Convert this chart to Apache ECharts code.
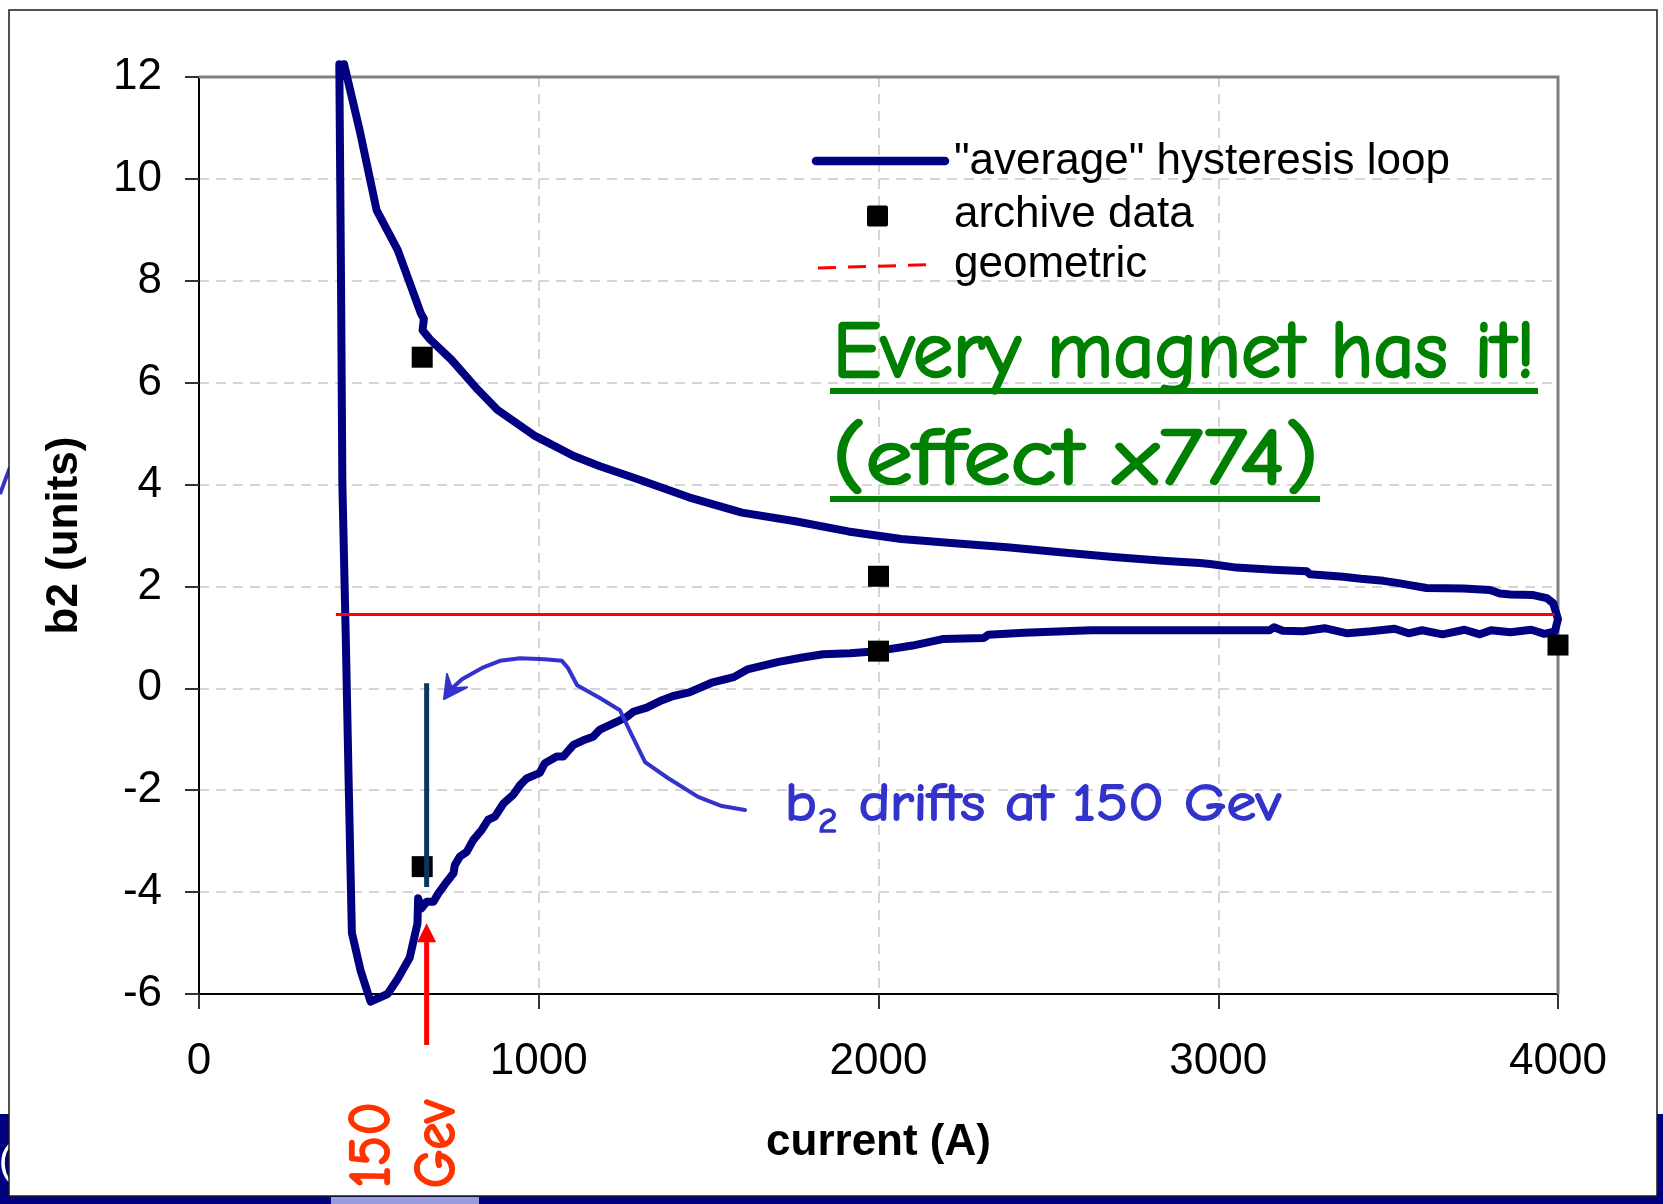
<!DOCTYPE html>
<html>
<head>
<meta charset="utf-8">
<script src="https://cdn.jsdelivr.net/npm/echarts@6/dist/echarts.min.js"></script>
<style>
  html, body { margin: 0; padding: 0; background: #fff; }
  #chart { width: 1663px; height: 1204px; }
</style>
</head>
<body>
<div id="chart"></div>
<script>
// b2 (units) against magnet current (A): averaged hysteresis loop,
// archived measurements and the geometric value.

// Loop traced in ramp order: drop at low current, up-ramp branch, turn at 4000 A, down-ramp branch.
const loopCurrent = [
  413, 418, 422, 432, 441, 450, 476, 505, 555, 585, 620, 643, 645, 655, 670, 690, 704, 729, 749, 753,
  768, 788, 807, 832, 851, 871, 896, 925, 945, 964, 1003, 1018, 1053, 1072, 1102, 1131, 1160, 1180, 1229, 1259,
  1278, 1318, 1357, 1396, 1443, 1509, 1574, 1614, 1706, 1772, 1837, 1916, 1995, 2100, 2192, 2310, 2323, 2428, 2626, 2889,
  3151, 3164, 3190, 3250, 3313, 3380, 3450, 3519, 3560, 3600, 3660, 3725, 3770, 3803, 3860, 3921, 3960, 3991, 4000, 3986,
  3967, 3927, 3860, 3829, 3800, 3722, 3613, 3560, 3535, 3486, 3420, 3368, 3270, 3260, 3161, 3054, 2976, 2946, 2847, 2691,
  2535, 2379, 2223, 2067, 1911, 1755, 1598, 1442, 1286, 1180, 1103, 990, 878, 821, 743, 680, 658, 662, 653, 585,
  523, 473, 427
];
const loopB2 = [
  12.25, 8.0, 4.0, 1.0, -2.0, -4.8, -5.55, -6.15, -6.0, -5.7, -5.29, -4.62, -4.12, -4.32, -4.19, -4.19, -4.03, -3.80, -3.63, -3.47,
  -3.30, -3.21, -2.98, -2.78, -2.58, -2.52, -2.26, -2.09, -1.90, -1.77, -1.66, -1.47, -1.34, -1.34, -1.11, -1.02, -0.95, -0.81, -0.66, -0.56,
  -0.46, -0.38, -0.25, -0.15, -0.08, 0.11, 0.22, 0.37, 0.52, 0.60, 0.67, 0.69, 0.73, 0.84, 0.97, 0.99, 1.05, 1.09, 1.14, 1.14,
  1.14, 1.20, 1.13, 1.12, 1.18, 1.08, 1.12, 1.17, 1.08, 1.14, 1.06, 1.15, 1.06, 1.14, 1.10, 1.15, 1.07, 1.12, 1.36, 1.67,
  1.77, 1.83, 1.84, 1.86, 1.93, 1.96, 1.97, 2.03, 2.06, 2.11, 2.15, 2.19, 2.24, 2.30, 2.33, 2.37, 2.44, 2.46, 2.50, 2.58,
  2.67, 2.77, 2.85, 2.93, 3.08, 3.28, 3.45, 3.75, 4.12, 4.36, 4.56, 4.95, 5.47, 5.86, 6.45, 6.85, 7.03, 7.25, 7.36, 8.6,
  9.38, 10.95, 12.25
];

// Archived b2 measurements
const archiveCurrent = [657, 657, 2000, 2000, 4000];
const archiveB2 = [6.5, -3.5, 2.2, 0.73, 0.85];

// Geometric b2
const geometricCurrent = [403, 3990];
const geometricB2 = [1.45, 1.45];

// Drift of b2 while sitting at 150 GeV
const driftCurrent = [670, 670];
const driftB2 = [0.1, -3.9];

// Axis ticks
const xTicks = [0, 1000, 2000, 3000, 4000];
const yTicks = [-6, -4, -2, 0, 2, 4, 6, 8, 10, 12];

// Annotation anchors, in (current, b2) units
const injectionArrow = { current: 670, from: -7.0, to: -4.61 };
const calloutPath = [
  [1607, -2.39], [1539, -2.31], [1469, -2.13], [1380, -1.76], [1313, -1.45], [1274, -0.92],
  [1239, -0.43], [1180, -0.19], [1113, 0.06], [1086, 0.40], [1068, 0.54], [1018, 0.57],
  [945, 0.59], [886, 0.54], [833, 0.40], [774, 0.18], [745, 0.0]
];
const calloutHead = [[721, -0.21], [730, 0.28], [745, 0.0], [789, 0.02]];

const SANS = 'Arial, "Liberation Sans", sans-serif';
const HAND = '"Comic Sans MS", "Comic Neue", "DejaVu Sans", sans-serif';

const zip = (xs, ys) => xs.map((x, i) => [x, ys[i]]);

const chart = echarts.init(document.getElementById('chart'), null, { renderer: 'canvas' });

const gridLine = { show: true, lineStyle: { color: '#c8c8c8', width: 1.5, type: [10, 7] } };

const option = {
  animation: false,
  backgroundColor: '#ffffff',
  grid: {
    left: 199, right: 105, top: 77, bottom: 210,
    show: false, containLabel: false, outerBoundsMode: 'none'
  },
  xAxis: {
    type: 'value',
    min: xTicks[0], max: xTicks[xTicks.length - 1], interval: xTicks[1] - xTicks[0],
    name: 'current (A)', nameLocation: 'middle', nameGap: 127, nameMoveOverlap: false,
    nameTextStyle: { fontSize: 44, fontWeight: 'bold', fontFamily: SANS, color: '#000' },
    axisLine: { show: true, onZero: false, lineStyle: { color: '#000', width: 2 } },
    axisTick: { show: true, inside: false, length: 15, lineStyle: { color: '#333', width: 2 } },
    axisLabel: { fontSize: 44, margin: 46, color: '#000', fontFamily: SANS, formatter: v => String(v) },
    splitLine: gridLine
  },
  yAxis: {
    type: 'value',
    min: yTicks[0], max: yTicks[yTicks.length - 1], interval: yTicks[1] - yTicks[0],
    name: 'b2 (units)', nameLocation: 'middle', nameGap: 112, nameMoveOverlap: false,
    nameTextStyle: { fontSize: 44, fontWeight: 'bold', fontFamily: SANS, color: '#000' },
    axisLine: { show: true, onZero: false, lineStyle: { color: '#000', width: 2 } },
    axisTick: { show: true, inside: false, length: 14, lineStyle: { color: '#333', width: 2 } },
    axisLabel: { fontSize: 44, margin: 37, color: '#000', fontFamily: SANS, formatter: v => String(v) },
    splitLine: gridLine
  },
  series: [
    {
      name: '"average" hysteresis loop',
      type: 'line',
      data: zip(loopCurrent, loopB2),
      symbol: 'none',
      clip: false,
      z: 3,
      lineStyle: { color: '#000080', width: 8, join: 'round', cap: 'round', opacity: 1 }
    },
    {
      name: 'geometric',
      type: 'line',
      data: zip(geometricCurrent, geometricB2),
      symbol: 'none',
      z: 4,
      lineStyle: { color: '#ff0000', width: 3, opacity: 1 }
    },
    {
      name: 'archive data',
      type: 'scatter',
      data: zip(archiveCurrent, archiveB2),
      symbol: 'rect',
      symbolSize: 21,
      z: 5,
      itemStyle: { color: '#000000', opacity: 1 }
    },
    {
      name: 'drift',
      type: 'line',
      data: zip(driftCurrent, driftB2),
      symbol: 'none',
      z: 6,
      lineStyle: { color: '#073763', width: 5, cap: 'butt', opacity: 1 }
    }
  ]
};

chart.setOption(option);

// ---- annotations and slide decoration ----
const toPx = (a, b) => chart.convertToPixel({ gridIndex: 0 }, [a, b]);
const measureCtx = document.createElement('canvas').getContext('2d');
function textWidth(str, size, family, weight) {
  measureCtx.font = (weight || 'normal') + ' ' + size + 'px ' + family;
  return measureCtx.measureText(str).width;
}
function textEl(str, x, y, size, family, fill, extra, styleExtra) {
  return Object.assign({
    type: 'text', x: x, y: y,
    style: Object.assign({
      text: str, fontSize: size, fontFamily: family, fill: fill,
      align: 'left', textAlign: 'left', verticalAlign: 'middle', textVerticalAlign: 'middle'
    }, styleExtra || {})
  }, extra || {});
}
// hand-lettered text, thickened with an outline, fitted to a given width
function handText(str, x, y, size, fill, extra, weight) {
  return textEl(str, x, y, size, HAND, fill, extra, { stroke: fill, lineWidth: weight || 2 });
}
function fittedText(str, x, y, size, fill, width, extra, weight) {
  const s = width / textWidth(str, size, HAND);
  return handText(str, x, y, size, fill, Object.assign({ scaleX: s }, extra || {}), weight);
}

const elements = [];

// slide background behind the chart box
elements.push({ type: 'rect', z: -20, shape: { x: 0, y: 1114, width: 1663, height: 90 }, style: { fill: '#000080' } });
elements.push(textEl('/', 9, 484, 36, SANS, '#3333cc', { z: -19 }, { fontStyle: 'italic', fontWeight: 'bold', align: 'right', textAlign: 'right' }));
elements.push(textEl('(', 12, 1163, 40, SANS, '#ffffff', { z: -19 }, { align: 'right', textAlign: 'right' }));
elements.push({ type: 'rect', z: -18, shape: { x: 9, y: 10, width: 1648, height: 1186 }, style: { fill: '#ffffff', stroke: '#1a1a1a', lineWidth: 1.5 } });
elements.push({ type: 'rect', z: -17, shape: { x: 331, y: 1197, width: 148, height: 7 }, style: { fill: '#9a9ade' } });

// plot frame: grey top and right edges
(function () {
  const tl = toPx(xTicks[0], yTicks[yTicks.length - 1]);
  const tr = toPx(xTicks[xTicks.length - 1], yTicks[yTicks.length - 1]);
  const br = toPx(xTicks[xTicks.length - 1], yTicks[0]);
  elements.push({ type: 'polyline', z: 1, shape: { points: [tl, tr, br] }, style: { stroke: '#808080', lineWidth: 3, fill: null } });
})();

// legend
elements.push({ type: 'line', z: 10, shape: { x1: 816, y1: 161, x2: 945, y2: 161 }, style: { stroke: '#000080', lineWidth: 8.5, lineCap: 'round' } });
elements.push(textEl('"average" hysteresis loop', 954, 162, 44, SANS, '#000', { z: 10 }));
elements.push({ type: 'rect', z: 10, shape: { x: 867, y: 205.5, width: 21, height: 21, r: 2 }, style: { fill: '#000' } });
elements.push(textEl('archive data', 954, 215, 44, SANS, '#000', { z: 10 }));
elements.push({ type: 'line', z: 10, shape: { x1: 818, y1: 268, x2: 934, y2: 264.5 }, style: { stroke: '#ff0000', lineWidth: 3, lineDash: [18, 12] } });
elements.push(textEl('geometric', 954, 265, 44, SANS, '#000', { z: 10 }));

// green remark, underlined
elements.push(fittedText('Every magnet has it!', 833, 354, 80, '#008000', 702, { z: 10 }, 2.5));
elements.push({ type: 'rect', z: 10, shape: { x: 830, y: 388, width: 708, height: 6 }, style: { fill: '#008000' } });
elements.push(fittedText('(effect x774)', 833, 461, 80, '#008000', 485, { z: 10 }, 2.5));
elements.push({ type: 'rect', z: 10, shape: { x: 830, y: 496, width: 490, height: 6 }, style: { fill: '#008000' } });

// "b2 drifts at 150 Gev" with a subscript 2
(function () {
  const big = 53, small = 34;
  const wb = textWidth('b', big, HAND);
  const w2 = textWidth('2', small, HAND);
  const wr = textWidth(' drifts at 150 Gev', big, HAND);
  const s = 496 / (wb + w2 + wr + 2);
  elements.push({
    type: 'group', x: 785, y: 805, scaleX: s, z: 10,
    children: [
      handText('b', 0, 0, big, '#3333cc', { z: 10 }, 1.8),
      handText('2', wb + 1, 17, small, '#3333cc', { z: 10 }, 1.4),
      handText(' drifts at 150 Gev', wb + w2 + 2, 0, big, '#3333cc', { z: 10 }, 1.8)
    ]
  });
})();

// callout arrow pointing at the drift
(function () {
  const pts = calloutPath.map(p => toPx(p[0], p[1]));
  elements.push({ type: 'polyline', z: 10, shape: { points: pts }, style: { stroke: '#3333cc', lineWidth: 4, fill: null, lineJoin: 'round', lineCap: 'round' } });
  const head = calloutHead.map(p => toPx(p[0], p[1]));
  elements.push({ type: 'polygon', z: 10, shape: { points: head }, style: { fill: '#3333cc', stroke: '#3333cc', lineWidth: 2, lineJoin: 'round' } });
})();

// red arrow marking the injection (150 GeV) current
(function () {
  const tail = toPx(injectionArrow.current, injectionArrow.from);
  const tip = toPx(injectionArrow.current, injectionArrow.to);
  const headLen = 19, half = 9.5;
  elements.push({ type: 'line', z: 10, shape: { x1: tail[0], y1: tail[1], x2: tip[0], y2: tip[1] + headLen - 1 }, style: { stroke: '#ff0000', lineWidth: 5 } });
  elements.push({ type: 'polygon', z: 10, shape: { points: [[tip[0], tip[1]], [tip[0] - half, tip[1] + headLen], [tip[0] + half, tip[1] + headLen]] }, style: { fill: '#ff0000' } });
})();

// rotated "150 / Gev" label under the axis
elements.push(fittedText('150', 373, 1188, 58, '#ff3300', 86, { rotation: Math.PI / 2, z: 10 }, 2.2));
elements.push(fittedText('Gev', 438, 1188, 58, '#ff3300', 88, { rotation: Math.PI / 2, z: 10 }, 2.2));

chart.setOption({ graphic: { elements: elements } });
</script>
</body>
</html>
